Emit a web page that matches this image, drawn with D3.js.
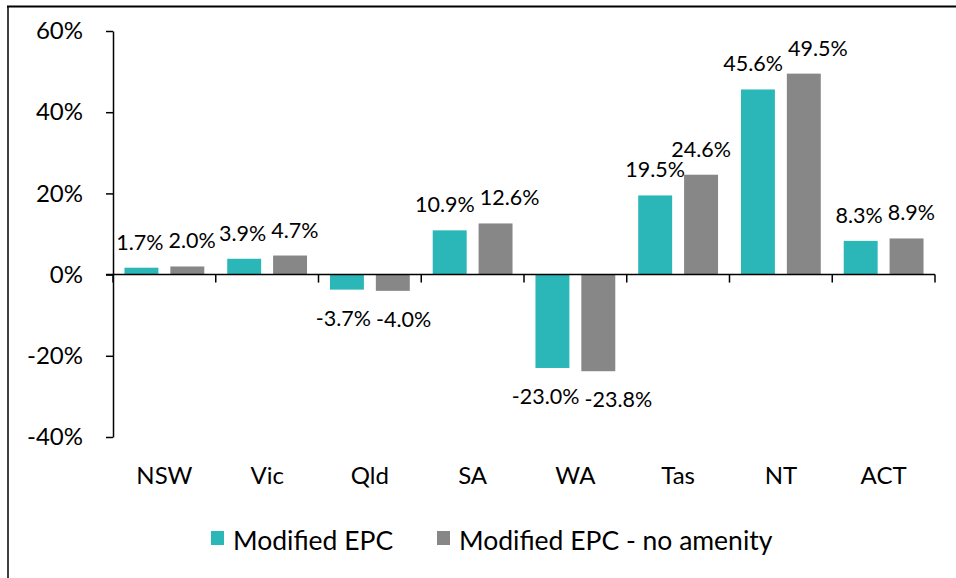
<!DOCTYPE html>
<html>
<head>
<meta charset="utf-8">
<script src="https://cdn.jsdelivr.net/npm/d3@7"></script>
<style>
  html, body { margin: 0; padding: 0; background: #fff; }
  svg { display: block; }
</style>
</head>
<body>
<svg id="chart" width="956" height="578"></svg>
<script>
const categories = ["NSW", "Vic", "Qld", "SA", "WA", "Tas", "NT", "ACT"];
const seriesNames = ["Modified EPC", "Modified EPC - no amenity"];
const modifiedEPC = [1.7, 3.9, -3.7, 10.9, -23.0, 19.5, 45.6, 8.3];
const noAmenity = [2.0, 4.7, -4.0, 12.6, -23.8, 24.6, 49.5, 8.9];
const yTicks = [-40, -20, 0, 20, 40, 60];
const colors = ["#2bb7b8", "#878787"];

const seriesValues = [modifiedEPC, noAmenity];
const svg = d3.select("#chart");
const font = "Lato, 'Open Sans', sans-serif";

// frame
svg.append("line").attr("x1", 7).attr("x2", 956).attr("y1", 6.5).attr("y2", 6.5)
  .attr("stroke", "#000").attr("stroke-width", 2);
svg.append("line").attr("x1", 8).attr("x2", 8).attr("y1", 6).attr("y2", 578)
  .attr("stroke", "#000").attr("stroke-width", 1.5);

const y = d3.scaleLinear().domain([-40, 60]).range([437, 31]);
const x = d3.scaleBand().domain(categories).range([113, 935]).paddingInner(0).paddingOuter(0);
const xs = d3.scaleBand().domain(d3.range(seriesNames.length)).range([0, x.bandwidth()])
  .paddingInner(0.26).paddingOuter(0.25);

// bars
const rows = categories.map((c, i) => ({ c, vals: seriesValues.map(s => s[i]) }));
const g = svg.append("g");
rows.forEach(r => {
  r.vals.forEach((v, k) => {
    g.append("rect")
      .attr("x", x(r.c) + xs(k))
      .attr("width", xs.bandwidth())
      .attr("y", Math.min(y(v), y(0)))
      .attr("height", Math.abs(y(v) - y(0)))
      .attr("fill", colors[k]);
  });
});

// y axis
const yAxis = d3.axisLeft(y).tickValues(yTicks).tickFormat(d => d + "%").tickSize(7).tickSizeOuter(0);
const ya = svg.append("g").attr("transform", "translate(113,0)").call(yAxis);
ya.select(".domain").attr("stroke", "#000").attr("stroke-width", 1.5);
ya.selectAll(".tick line").attr("stroke", "#000").attr("stroke-width", 1.5);
ya.selectAll(".tick text").attr("x", -30).attr("font-family", font).attr("font-size", 24).attr("fill", "#000");

// x axis line with category-boundary ticks
svg.append("line").attr("x1", 106).attr("x2", 935).attr("y1", y(0)).attr("y2", y(0))
  .attr("stroke", "#000").attr("stroke-width", 1.5);
const bounds = categories.map(c => x(c)).concat([x.range()[1]]);
svg.selectAll(".xtick").data(bounds).enter().append("line")
  .attr("x1", d => d).attr("x2", d => d)
  .attr("y1", y(0)).attr("y2", y(0) + 8)
  .attr("stroke", "#000").attr("stroke-width", 1.5);

// category labels
svg.selectAll(".cat").data(categories).enter().append("text")
  .attr("x", d => x(d) + x.bandwidth() / 2)
  .attr("y", 484)
  .attr("text-anchor", "middle")
  .attr("font-family", font).attr("font-size", 24).attr("fill", "#000")
  .text(d => d);

// data labels (with simple collision avoidance between the two labels of a category)
rows.forEach(r => {
  const labels = r.vals.map((v, k) => {
    const cx = x(r.c) + xs(k) + xs.bandwidth() / 2;
    const ty = v >= 0 ? y(v) - 18 : y(v) + 36;
    const t = g.append("text")
      .attr("x", cx).attr("y", ty)
      .attr("text-anchor", "middle")
      .attr("font-family", font).attr("font-size", 21.5).attr("fill", "#000")
      .text(v.toFixed(1) + "%");
    return { t, cx, ty, w: t.node().getComputedTextLength() };
  });
  const [a, b] = labels;
  if (Math.abs(a.ty - b.ty) < 18) {
    const gap = 5;
    const overlap = (a.cx + a.w / 2 + gap) - (b.cx - b.w / 2);
    if (overlap > 0) {
      a.t.attr("x", a.cx - overlap * 0.25);
      b.t.attr("x", b.cx + overlap * 0.75);
    }
  }
});

// legend
const legendX = [211, 437];
seriesNames.forEach((n, k) => {
  svg.append("rect").attr("x", legendX[k]).attr("y", 531).attr("width", 13).attr("height", 14)
    .attr("fill", colors[k]);
  svg.append("text").attr("x", legendX[k] + 22).attr("y", 550)
    .attr("font-family", font).attr("font-size", 26.5).attr("fill", "#000")
    .text(n);
});
</script>
</body>
</html>
